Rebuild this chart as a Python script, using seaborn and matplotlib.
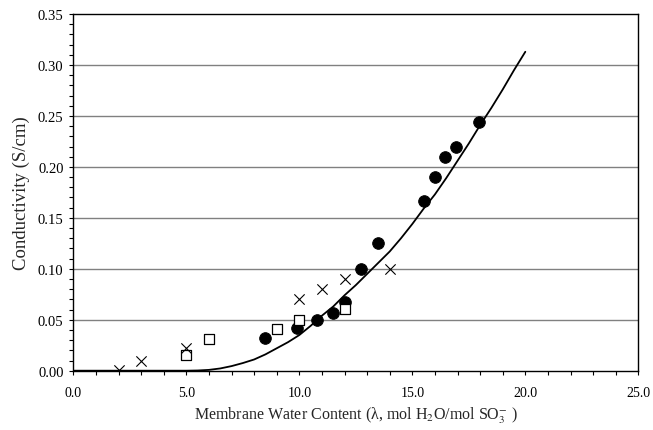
import numpy as np
import pandas as pd
import seaborn as sns
import matplotlib.pyplot as plt
from matplotlib.ticker import MultipleLocator, FormatStrFormatter

# model curve
curve_lam = [0, 2, 4, 5, 5.5, 6, 6.5, 7, 7.5, 8, 8.5, 9, 9.5, 10, 10.5, 11, 11.5,
             12, 12.5, 13, 13.5, 14, 14.5, 15, 15.5, 16, 16.5, 17, 17.5, 18,
             18.5, 19, 19.5, 20]
curve_sigma = [0, 0, 0, 0, 0.0002, 0.0008, 0.0022, 0.0045, 0.0075, 0.011, 0.016,
               0.022, 0.028, 0.035, 0.044, 0.054, 0.063, 0.074, 0.084, 0.095,
               0.106, 0.117, 0.130, 0.144, 0.159, 0.173, 0.189, 0.206, 0.223,
               0.241, 0.258, 0.276, 0.295, 0.313]

# measured points
circle_lam = [8.5, 9.9, 10.8, 11.5, 12.0, 12.75, 13.5, 15.5, 16.0, 16.45, 16.95, 17.95]
circle_sigma = [0.032, 0.0415, 0.050, 0.057, 0.067, 0.100, 0.125, 0.167, 0.190, 0.210, 0.220, 0.244]

cross_lam = [2, 3, 5, 10, 11, 12, 14]
cross_sigma = [0.001, 0.010, 0.022, 0.070, 0.080, 0.090, 0.100]

square_lam = [5, 6, 9, 10, 12]
square_sigma = [0.0155, 0.031, 0.0405, 0.050, 0.061]

sns.set_style("ticks")
plt.rcParams["font.family"] = ["Liberation Serif", "DejaVu Serif"]
plt.rcParams["mathtext.fontset"] = "stix"

fig = plt.figure(figsize=(6.53, 4.31), dpi=100)
ax = fig.add_axes([0.1123, 0.1376, 0.8652, 0.8274])

for y in [0.05, 0.10, 0.15, 0.20, 0.25, 0.30]:
    ax.axhline(y, color="#808080", lw=1.0, zorder=0)

curve = pd.DataFrame({"lam": curve_lam, "sigma": curve_sigma})
sns.lineplot(data=curve, x="lam", y="sigma", color="black", lw=1.3,
             sort=False, estimator=None, ax=ax, zorder=3)

sns.scatterplot(x=circle_lam, y=circle_sigma, marker="o", s=70, color="black",
                edgecolor="black", ax=ax, zorder=4)
sns.scatterplot(x=square_lam, y=square_sigma, marker="s", s=60, facecolor="white",
                edgecolor="black", linewidth=0.9, ax=ax, zorder=4)
sns.scatterplot(x=cross_lam, y=cross_sigma, marker="x", s=55, color="black",
                linewidth=0.8, ax=ax, zorder=4)

ax.set_xlim(0, 25)
ax.set_ylim(0, 0.35)
ax.xaxis.set_major_locator(MultipleLocator(5))
ax.xaxis.set_minor_locator(MultipleLocator(1))
ax.yaxis.set_major_locator(MultipleLocator(0.05))
ax.yaxis.set_minor_locator(MultipleLocator(0.01))
ax.xaxis.set_major_formatter(FormatStrFormatter("%.1f"))
ax.yaxis.set_major_formatter(FormatStrFormatter("%.2f"))
ax.tick_params(which="both", direction="out", length=3, width=0.8, colors="black")
ax.tick_params(axis="x", labelsize=10, pad=8)
ax.tick_params(axis="y", labelsize=10.5, pad=4)

for s in ax.spines.values():
    s.set_color("black")
    s.set_linewidth(1.0)

ax.set_xlabel(r"Membrane Water Content (λ, mol H$_2$O/mol SO$_3^{-}$ )",
              fontsize=11.5, labelpad=4)
ax.set_ylabel("Conductivity (S/cm)", fontsize=13.5, labelpad=6)

fig.savefig("out.png", dpi=100)
